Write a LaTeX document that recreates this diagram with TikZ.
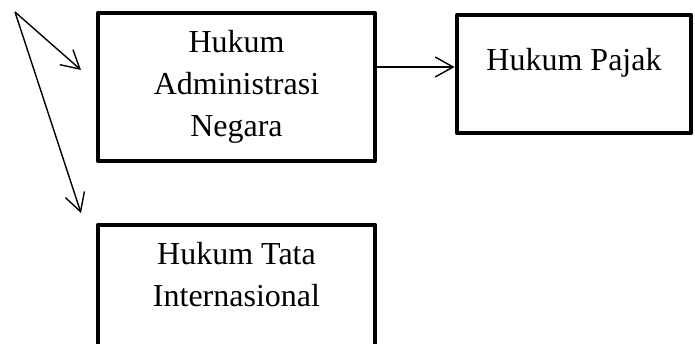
\documentclass[tikz,border=0pt]{standalone}
\usepackage{fontspec}
\setmainfont{Liberation Serif}
\usetikzlibrary{arrows.meta}
\tikzset{
  kotak/.style={draw, line width=2.4pt, align=center, inner sep=0pt},
  panah/.style={->, line width=0.7pt}
}
\begin{document}
\begin{tikzpicture}[x=0.5pt, y=-0.5pt, font=\fontsize{16}{21}\selectfont, line join=round, >={Straight Barb[length=9pt,width=10pt]}]
 \useasboundingbox (0,0) rectangle (695,343);
 \node[kotak, minimum width=138.5pt, minimum height=74pt] (han) at (236.5,87) {Hukum\\Administrasi\\Negara};
 \node[kotak, minimum width=117pt, minimum height=59pt, text height=11pt, text depth=15pt] (pajak) at (574,74) {Hukum Pajak};
 \node[kotak, minimum width=138.5pt, minimum height=75pt, text height=11pt, text depth=5pt] (hti) at (236.5,300) {Hukum Tata\\Internasional};
 \coordinate (asal) at (15,12);
 \coordinate (ujung1) at (81,70);
 \coordinate (ujung2) at (81,213);
 \coordinate (kanan) at ([yshift=10pt]han.east);
 \draw[panah] (asal) -- (ujung1);
 \draw[panah] (asal) -- (ujung2);
 \draw[panah] (kanan) -- (kanan -| pajak.west);
\end{tikzpicture}
\end{document}
